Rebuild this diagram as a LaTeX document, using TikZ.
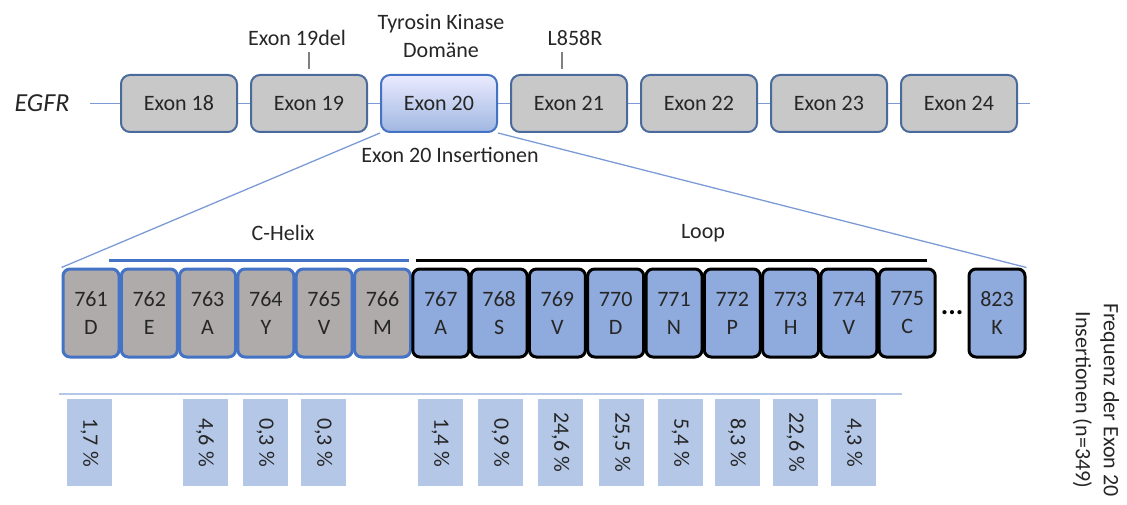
\documentclass[tikz,border=0pt]{standalone}
\usepackage{fontspec}
\setmainfont{Carlito}
\usetikzlibrary{calc}
\definecolor{exongray}{HTML}{C8C8C8}
\definecolor{exonline}{HTML}{4A6A9C}
\definecolor{resgray}{HTML}{AFABAB}
\definecolor{helixblue}{HTML}{4472C4}
\definecolor{resblue}{HTML}{8FAADC}
\definecolor{barblue}{HTML}{B4C7E7}
\definecolor{linkblue}{HTML}{7C9BD6}
\definecolor{txt}{HTML}{262626}
\begin{document}
\begin{tikzpicture}[x=1pt,y=-1pt,font=\fontsize{22}{28}\selectfont,text=txt,
  exonbox/.style={draw=exonline,line width=2pt,rounded corners=9pt,fill=exongray,
    minimum width=116pt,minimum height=57pt,inner sep=0pt},
  helixres/.style={draw=helixblue,line width=3pt,rounded corners=7pt,fill=resgray,
    minimum width=56pt,minimum height=88pt,inner sep=0pt,align=center},
  loopres/.style={helixres,draw=black,fill=resblue},
  freqbar/.style={fill=barblue,rotate=-90,minimum width=87pt,minimum height=45pt,inner sep=0pt},
  link/.style={linkblue,line width=1.3pt},
  marktick/.style={gray,line width=1.5pt}]
  \useasboundingbox (0,0) rectangle (1127,505);
  % exon row
  \node[font=\fontsize{26}{30}\selectfont\itshape] (egfr) at (42,103.5) {EGFR};
  \foreach \n in {18,19,21,22,23,24}
    \node[exonbox] (ex\n) at ({179+130*(\n-18)},103.5) {Exon \n};
  \node[exonbox,draw=helixblue,top color=blue!8,bottom color=resblue!85] (ex20) at (439,103.5) {Exon 20};
  \coordinate (rowstart) at (90,103.5);
  \coordinate (rowend) at (1030,103.5);
  \draw[link] (rowstart) -- (ex18.west) (ex18.east) -- (ex19.west) (ex19.east) -- (ex20.west)
    (ex20.east) -- (ex21.west) (ex21.east) -- (ex22.west) (ex22.east) -- (ex23.west)
    (ex23.east) -- (ex24.west) (ex24.east) -- (rowend);
  \node (del19) at (297,38) {Exon 19del};
  \draw[marktick] ([yshift=5pt]ex19.north) -- ([yshift=22pt]ex19.north);
  \node[align=center] (tkd) at (441,36.5) {Tyrosin Kinase\\Domäne};
  \node (l858r) at (575,38) {L858R};
  \draw[marktick] ([xshift=-7pt,yshift=5pt]ex21.north) -- ([xshift=-7pt,yshift=22pt]ex21.north);
  \node (ins20) at (450,155) {Exon 20 Insertionen};
  % residues
  \foreach \num/\aa [count=\k from 0] in {761/D,762/E,763/A,764/Y,765/V,766/M}
    \node[helixres] (r\num) at ({91+58.3*\k},313) {\num\\\aa};
  \foreach \num/\aa [count=\k from 6] in {767/A,768/S,769/V,770/D,771/N,772/P,773/H,774/V,775/C}
    \node[loopres] (r\num) at ({91+58.3*\k},313) {\num\\\aa};
  \node[loopres] (r823) at (997,313) {823\\K};
  \node[font=\fontsize{28}{30}\selectfont\bfseries,text=black] (dots) at ($(r775.east)!0.5!(r823.west)$) {...};
  \draw[link] (ex20.south west) -- (r761.north west);
  \draw[link] (ex20.south east) -- (r823.north east);
  \draw[helixblue,line width=3pt] ([xshift=-11pt,yshift=7pt]r762.north west) -- ([xshift=-3pt,yshift=7pt]r766.north east);
  \draw[black,line width=3.5pt] ([xshift=5pt,yshift=7pt]r767.north west) -- ([xshift=-10pt,yshift=7pt]r775.north east);
  \node (helix) at (283,233) {C-Helix};
  \node (loop) at (703,233) {Loop};
  % frequencies
  \coordinate (basestart) at (59,394);
  \coordinate (baseend) at (902,394);
  \draw[barblue,line width=2pt] (basestart) -- (baseend);
  \foreach \x/\v [count=\b] in {89.5/1{,}7,205/4{,}6,265.5/0{,}3,323.5/0{,}3,440.5/1{,}4,500.5/0{,}9,
      560.5/24{,}6,621.5/25{,}5,680.5/5{,}4,737/8{,}3,795.5/22{,}6,853.5/4{,}3}
    \node[freqbar] (bar\b) at (\x,442.5) {\v{} \%};
  \node[rotate=-90,align=center] (freq) at (1096,400) {Frequenz der Exon 20\\Insertionen (n=349)};
\end{tikzpicture}
\end{document}
